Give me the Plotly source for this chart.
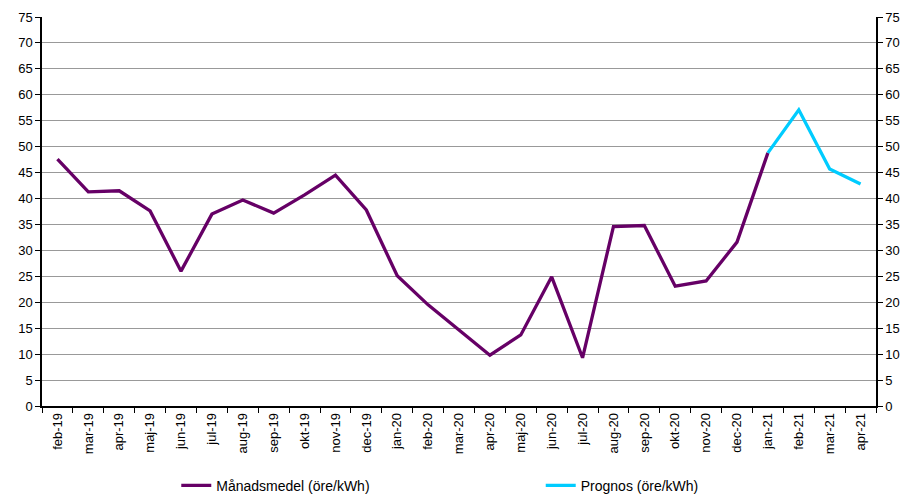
import plotly.graph_objects as go

months = ["feb-19", "mar-19", "apr-19", "maj-19", "jun-19", "jul-19", "aug-19", "sep-19",
          "okt-19", "nov-19", "dec-19", "jan-20", "feb-20", "mar-20", "apr-20", "maj-20",
          "jun-20", "jul-20", "aug-20", "sep-20", "okt-20", "nov-20", "dec-20", "jan-21",
          "feb-21", "mar-21", "apr-21"]

manadsmedel = [47.6, 41.3, 41.5, 37.6, 26.0, 37.0, 39.7, 37.2,
               40.7, 44.5, 37.8, 25.1, 19.5, 14.6, 9.8, 13.7,
               24.9, 9.3, 34.6, 34.8, 23.1, 24.1, 31.6, 48.8,
               None, None, None]

prognos = [None] * 23 + [48.8, 57.1, 45.7, 42.8]

fig = go.Figure()
fig.add_trace(go.Scatter(x=months, y=manadsmedel, mode="lines", name="Månadsmedel (öre/kWh)",
                         line=dict(color="#660066", width=3.3), legend="legend"))
fig.add_trace(go.Scatter(x=months, y=prognos, mode="lines", name="Prognos (öre/kWh)",
                         line=dict(color="#00ccff", width=3.3), legend="legend2"))
# invisible trace for the right axis
fig.add_trace(go.Scatter(x=months, y=manadsmedel, yaxis="y2", mode="lines",
                         line=dict(width=0), showlegend=False, hoverinfo="skip", opacity=0))

axis_font = dict(family="Liberation Sans, Arial", size=13, color="black")
leg_font = dict(family="Liberation Sans, Arial", size=14, color="black")
fig.update_layout(
    width=904, height=496,
    margin=dict(l=42, r=28, t=17, b=90, autoexpand=False),
    paper_bgcolor="white", plot_bgcolor="white",
    font=dict(family="Liberation Sans, Arial", color="black"),
    xaxis=dict(type="category", tickangle=-90, tickson="boundaries", ticks="outside",
               ticklen=5, tickcolor="black", showline=True, linecolor="black", linewidth=1.5,
               showgrid=False, automargin=False,
               tickfont=dict(family="Liberation Sans, Arial", size=13, color="black"),
               range=[-0.5, 26.5]),
    yaxis=dict(range=[0, 75], dtick=5, ticks="outside", ticklen=5, tickcolor="black",
               showline=True, linecolor="black", linewidth=1.5, showgrid=True, automargin=False,
               gridcolor="#999999", gridwidth=1, zeroline=False, tickfont=axis_font),
    yaxis2=dict(range=[0, 75], dtick=5, ticks="outside", ticklen=5, tickcolor="black",
                showline=True, linecolor="black", linewidth=1.5, showgrid=False, automargin=False,
                zeroline=False, overlaying="y", side="right", tickfont=axis_font),
    showlegend=True,
    legend=dict(orientation="h", x=0.161, xanchor="left", y=-0.205, yanchor="middle",
                font=leg_font, bgcolor="rgba(0,0,0,0)"),
    legend2=dict(orientation="h", x=0.598, xanchor="left", y=-0.205, yanchor="middle",
                 font=leg_font, bgcolor="rgba(0,0,0,0)"),
)

fig.write_html("out.html", config={"displayModeBar": False},
               post_script="document.body.style.margin='0';document.body.style.overflow='hidden';")
